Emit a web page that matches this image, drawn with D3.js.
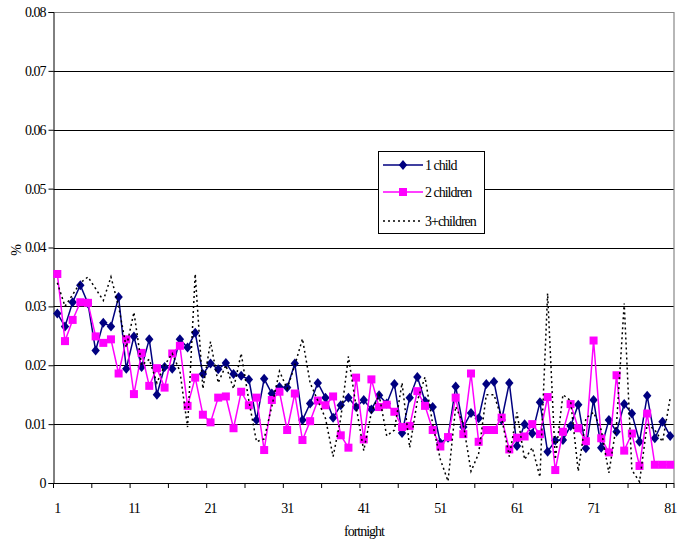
<!DOCTYPE html>
<html><head><meta charset="utf-8">
<script src="https://cdn.jsdelivr.net/npm/d3@7"></script>
<style>body{margin:0;background:#fff}svg{display:block}text{font-family:"Liberation Serif","Times New Roman",serif;}</style>
</head><body><svg id="c" width="678" height="546"></svg>
<script>
const fortnights = d3.range(1, 82);
const oneChild = [0.0288,0.0266,0.0307,0.0336,0.0305,0.0225,0.0272,0.0266,0.0316,0.0194,
0.0249,0.0197,0.0244,0.0150,0.0197,0.0194,0.0244,0.0230,0.0255,0.0185,
0.0203,0.0193,0.0204,0.0185,0.0182,0.0176,0.0107,0.0177,0.0152,0.0163,
0.0162,0.0203,0.0107,0.0135,0.0170,0.0145,0.0111,0.0132,0.0145,0.0129,
0.0141,0.0125,0.0149,0.0135,0.0168,0.0085,0.0145,0.0180,0.0139,0.0129,
0.0068,0.0077,0.0164,0.0095,0.0119,0.0110,0.0168,0.0172,0.0107,0.0170,
0.0063,0.0100,0.0084,0.0137,0.0053,0.0072,0.0073,0.0097,0.0133,0.0059,
0.0141,0.0060,0.0107,0.0087,0.0134,0.0118,0.0070,0.0148,0.0076,0.0104,0.0080];
const twoChildren = [0.0355,0.0241,0.0277,0.0307,0.0306,0.0249,0.0238,0.0244,0.0186,0.0244,
0.0151,0.0221,0.0165,0.0195,0.0162,0.0220,0.0233,0.0131,0.0179,0.0116,
0.0103,0.0145,0.0147,0.0093,0.0155,0.0132,0.0145,0.0056,0.0141,0.0155,
0.0090,0.0152,0.0073,0.0105,0.0140,0.0132,0.0147,0.0081,0.0060,0.0179,
0.0074,0.0176,0.0129,0.0133,0.0121,0.0095,0.0097,0.0156,0.0131,0.0090,
0.0062,0.0078,0.0145,0.0083,0.0186,0.0070,0.0090,0.0090,0.0111,0.0057,
0.0077,0.0079,0.0100,0.0083,0.0146,0.0022,0.0087,0.0134,0.0093,0.0071,
0.0242,0.0076,0.0052,0.0183,0.0055,0.0084,0.0029,0.0118,0.0031,0.0031,0.0031];
const threePlus = [0.0340,0.0300,0.0320,0.0340,0.0350,0.0330,0.0310,0.0350,0.0300,0.0230,
0.0290,0.0200,0.0210,0.0170,0.0200,0.0220,0.0190,0.0095,0.0355,0.0160,
0.0240,0.0170,0.0200,0.0160,0.0220,0.0140,0.0070,0.0075,0.0130,0.0190,
0.0160,0.0200,0.0245,0.0170,0.0140,0.0110,0.0045,0.0110,0.0215,0.0130,
0.0055,0.0120,0.0150,0.0080,0.0090,0.0170,0.0060,0.0140,0.0180,0.0100,
0.0040,0.0003,0.0130,0.0100,0.0020,0.0050,0.0150,0.0150,0.0110,0.0045,
0.0120,0.0040,0.0060,0.0010,0.0322,0.0040,0.0150,0.0140,0.0020,0.0110,
0.0120,0.0090,0.0017,0.0100,0.0305,0.0022,0.0002,0.0100,0.0090,0.0070,0.0144];
const yTicks = [0,0.01,0.02,0.03,0.04,0.05,0.06,0.07,0.08];
const xLabels = [1,11,21,31,41,51,61,71,81];
const seriesNames = ["1 child","2 children","3+children"];

const svg = d3.select("#c");
const L = 53.5, R = 674, T = 12, B = 483;
const x = d3.scaleBand().domain(fortnights).range([L, R]).padding(0);
const cx = d => x(d) + x.bandwidth()/2;
const y = d3.scaleLinear().domain([0, 0.08]).range([B, T]);

// gridlines
svg.append("g").selectAll("line").data(yTicks.filter(v => v > 0 && v < 0.08)).join("line")
  .attr("x1", L).attr("x2", R).attr("y1", d => Math.round(y(d))+0.5).attr("y2", d => Math.round(y(d))+0.5)
  .attr("stroke", "#000").attr("stroke-width", 1);
// plot border top/right
svg.append("path").attr("d", `M${L},${Math.round(y(0.08))+0.5}H${R}V${B}`)
  .attr("fill","none").attr("stroke","#888").attr("stroke-width",1.2);

// y axis
const yAxis = d3.axisLeft(y).tickValues(yTicks).tickSize(5).tickPadding(3)
  .tickFormat(d => d === 0 ? "0" : d3.format(".2f")(d));
const gy = svg.append("g").attr("transform", `translate(${L},0)`).call(yAxis);
gy.select(".domain").attr("stroke","#000");
gy.selectAll("text").attr("font-size", 14).attr("letter-spacing", "-1px").attr("fill","#000")
  .style("font-family", '"Liberation Serif",serif');

// x axis
const gx = svg.append("g").attr("transform", `translate(0,${B})`);
gx.append("line").attr("x1", L).attr("x2", R).attr("y1", 0.5).attr("y2", 0.5).attr("stroke","#000");
const tickPos = d3.range(0, 81, 5).map(i => L + i * x.bandwidth());
tickPos.push(R);
gx.selectAll("line.t").data(tickPos).join("line").attr("class","t")
  .attr("x1", d => d).attr("x2", d => d).attr("y1", 0).attr("y2", 5).attr("stroke","#000");
gx.selectAll("text").data(xLabels).join("text")
  .attr("x", d => cx(d)).attr("y", 30).attr("text-anchor","middle")
  .attr("font-size", 14).attr("letter-spacing","-1px").text(d => d);

svg.append("text").attr("x", 364).attr("y", 536).attr("text-anchor","middle")
  .attr("font-size", 14).attr("letter-spacing","-1px").text("fortnight");
svg.append("text").attr("transform","translate(21,250) rotate(-90)").attr("text-anchor","middle")
  .attr("font-size", 14).text("%");

const line = d3.line().x((d,i) => cx(fortnights[i])).y(d => y(d));

// series 1
svg.append("path").datum(oneChild).attr("d", line).attr("fill","none").attr("stroke","#000080").attr("stroke-width",1.5);
svg.append("g").selectAll("path").data(oneChild).join("path")
  .attr("d", (d,i) => { const px = cx(fortnights[i]), py = y(d); return `M${px},${py-5}L${px+4.2},${py}L${px},${py+5}L${px-4.2},${py}Z`; })
  .attr("fill","#000080");
// series 2
svg.append("path").datum(twoChildren).attr("d", line).attr("fill","none").attr("stroke","#FF00FF").attr("stroke-width",1.5);
svg.append("g").selectAll("rect").data(twoChildren).join("rect")
  .attr("x", (d,i) => cx(fortnights[i]) - 4).attr("y", d => y(d) - 4).attr("width", 8).attr("height", 8)
  .attr("fill","#FF00FF");
// series 3
svg.append("path").datum(threePlus).attr("d", line).attr("fill","none").attr("stroke","#000")
  .attr("stroke-width",1.5).attr("stroke-dasharray","2,3");

// legend
const lg = svg.append("g");
lg.append("rect").attr("x", 378.5).attr("y", 151.5).attr("width", 106).attr("height", 82)
  .attr("fill","#fff").attr("stroke","#000").attr("stroke-width",1);
const ly = [165, 192, 221];
lg.append("line").attr("x1",383).attr("x2",423).attr("y1",ly[0]).attr("y2",ly[0]).attr("stroke","#000080").attr("stroke-width",1.5);
lg.append("path").attr("d", `M403,${ly[0]-5}L407.2,${ly[0]}L403,${ly[0]+5}L398.8,${ly[0]}Z`).attr("fill","#000080");
lg.append("line").attr("x1",383).attr("x2",423).attr("y1",ly[1]).attr("y2",ly[1]).attr("stroke","#FF00FF").attr("stroke-width",1.5);
lg.append("rect").attr("x",399).attr("y",ly[1]-4).attr("width",8).attr("height",8).attr("fill","#FF00FF");
lg.append("line").attr("x1",383).attr("x2",423).attr("y1",ly[2]).attr("y2",ly[2]).attr("stroke","#000").attr("stroke-width",1.5).attr("stroke-dasharray","2,3");
lg.selectAll("text").data(seriesNames).join("text")
  .attr("x", 425).attr("y", (d,i) => ly[i] + 5).attr("font-size", 14).attr("letter-spacing","-1px").text(d => d);
</script></body></html>
